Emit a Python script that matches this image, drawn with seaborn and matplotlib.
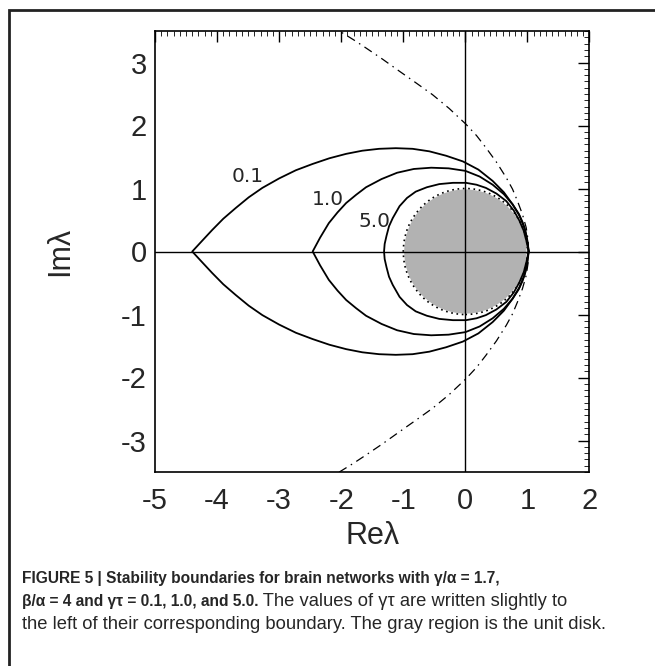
import matplotlib
matplotlib.use("Agg")
import matplotlib.pyplot as plt
import seaborn as sns
from matplotlib.patches import Circle, Rectangle
from matplotlib.ticker import MultipleLocator

# ---- data (upper half; curves are symmetric about Im=0) ----
re_01 = [-4.40, -4.25, -4.08, -3.90, -3.70, -3.49, -3.27, -3.00, -2.73, -2.46, -2.19, -1.92, -1.66,
         -1.39, -1.12, -0.85, -0.58, -0.31, -0.04, 0.21, 0.44, 0.62, 0.76, 0.86, 0.92, 0.97, 1.00, 1.02]
im_01 = [0.00, 0.16, 0.34, 0.52, 0.69, 0.86, 1.01, 1.16, 1.29, 1.39, 1.48, 1.55, 1.60,
         1.63, 1.64, 1.63, 1.59, 1.52, 1.43, 1.30, 1.12, 0.94, 0.75, 0.60, 0.47, 0.32, 0.17, 0.00]

re_10 = [-2.46, -2.34, -2.20, -2.06, -1.92, -1.76, -1.60, -1.35, -1.10, -0.83, -0.55, -0.27, 0.00,
         0.23, 0.44, 0.62, 0.76, 0.87, 0.95, 0.99, 1.02]
im_10 = [0.00, 0.22, 0.45, 0.62, 0.77, 0.90, 1.02, 1.15, 1.25, 1.31, 1.33, 1.32, 1.28,
         1.19, 1.06, 0.91, 0.75, 0.57, 0.38, 0.20, 0.00]

re_50 = [-1.31, -1.30, -1.27, -1.23, -1.17, -1.06, -0.94, -0.80, -0.62, -0.42, -0.20, 0.01,
         0.18, 0.33, 0.50, 0.66, 0.78, 0.87, 0.94, 0.98, 1.02]
im_50 = [0.00, 0.12, 0.25, 0.40, 0.53, 0.72, 0.85, 0.95, 1.02, 1.07, 1.09, 1.09,
         1.06, 1.01, 0.92, 0.80, 0.65, 0.49, 0.33, 0.18, 0.00]

re_dd = [-2.17, -2.03, -1.80, -1.60, -1.33, -1.06, -0.80, -0.53, -0.26, 0.01, 0.18, 0.33, 0.50,
         0.66, 0.76, 0.84, 0.92, 0.98, 1.01, 1.02]
im_dd = [3.60, 3.50, 3.36, 3.23, 3.05, 2.86, 2.68, 2.49, 2.27, 2.02, 1.84, 1.65, 1.42,
         1.17, 0.99, 0.80, 0.59, 0.38, 0.19, 0.00]

curve_labels = ["0.1", "1.0", "5.0"]
label_re = [-3.51, -2.22, -1.47]
label_im = [1.19, 0.82, 0.48]

disk_radius = 1.0
x_ticks = [-5, -4, -3, -2, -1, 0, 1, 2]
y_ticks = [-3, -2, -1, 0, 1, 2, 3]


def closed(re, im):
    # vertex first -> mirror: upper half back to (1,0) then lower half
    xs = re[::-1] + re[1:]
    ys = im[::-1] + [-v for v in im[1:]]
    return xs, ys


def open_arc(re, im):
    # top end first -> down to (1,0) -> mirrored lower half
    xs = re + re[::-1][1:]
    ys = im + [-v for v in im[::-1][1:]]
    return xs, ys


sns.set_style("white")
plt.rcParams["font.family"] = ["Liberation Sans", "DejaVu Sans"]

fig = plt.figure(figsize=(6.55, 6.66), dpi=100)
ax = fig.add_axes([155 / 655, 1 - 472 / 666, 434.5 / 655, 441 / 666])

# unit disk
ax.add_patch(Circle((0, 0), disk_radius * 0.985, facecolor="#b2b2b2", edgecolor="none", zorder=1))
ax.add_patch(Circle((0, 0), disk_radius, facecolor="none", edgecolor="black",
                    linestyle=(0, (1, 2.2)), lw=1.2, zorder=3))

ax.axhline(0, color="black", lw=1.0, zorder=2)
ax.axvline(0, color="black", lw=1.0, zorder=2)

for re, im in [(re_01, im_01), (re_10, im_10), (re_50, im_50)]:
    xs, ys = closed(re, im)
    sns.lineplot(x=xs, y=ys, sort=False, estimator=None, color="black", lw=1.3, ax=ax, zorder=4)

xs, ys = open_arc(re_dd, im_dd)
sns.lineplot(x=xs, y=ys, sort=False, estimator=None, color="black", lw=0.9,
             linestyle=(0, (7, 4, 1.2, 4)), ax=ax, zorder=4)

for t, x, y in zip(curve_labels, label_re, label_im):
    ax.text(x, y, t, ha="center", va="center", fontsize=14.5, family=["DejaVu Sans"], zorder=5)

ax.set_xlim(-5, 2)
ax.set_ylim(-3.5, 3.5)
ax.set_xticks(x_ticks)
ax.set_yticks(y_ticks)
ax.set_xticklabels([str(v) for v in x_ticks])
ax.set_yticklabels([str(v) for v in y_ticks])
ax.xaxis.set_minor_locator(MultipleLocator(0.1))
ax.yaxis.set_minor_locator(MultipleLocator(0.1))
ax.tick_params(which="both", direction="in", top=True, right=True, color="black")
ax.tick_params(which="major", length=8, width=1.0, labelsize=21)
ax.tick_params(axis="x", which="major", pad=11)
ax.tick_params(axis="y", which="major", pad=6)
ax.tick_params(which="minor", length=3.5, width=0.6)
for s in ax.spines.values():
    s.set_linewidth(1.2)
    s.set_color("black")

ax.set_xlabel("Reλ", fontsize=22)
ax.set_ylabel("Imλ", fontsize=22)
ax.xaxis.label.set_va("center")
ax.yaxis.label.set_va("center")
ax.xaxis.set_label_coords(0.5, -0.145)
ax.yaxis.set_label_coords(-0.218, 0.5)

# border frame
fig.add_artist(Rectangle((9 / 655, -0.05), 1.2, 1 - 10 / 666 + 0.05, transform=fig.transFigure,
                         fill=False, edgecolor="#222222", lw=2.0))

# caption
bold_fs = 11.2
reg_fs = 13.2
cx = 22 / 655
fig.text(cx, 1 - 583 / 666, "FIGURE 5 | Stability boundaries for brain networks with γ/α = 1.7,",
         fontsize=bold_fs, fontweight="bold", va="baseline", ha="left")
y2 = 1 - 606 / 666
t2 = fig.text(cx, y2, "β/α = 4 and γτ = 0.1, 1.0, and 5.0.",
              fontsize=bold_fs, fontweight="bold", va="baseline", ha="left")
renderer = fig.canvas.get_renderer()
bb = t2.get_window_extent(renderer)
fig.text(bb.x1 / fig.bbox.width, y2, " The values of γτ are written slightly to",
         fontsize=reg_fs, va="baseline", ha="left")
fig.text(cx, 1 - 629 / 666, "the left of their corresponding boundary. The gray region is the unit disk.",
         fontsize=reg_fs, va="baseline", ha="left")

fig.savefig("out.png", dpi=100)
